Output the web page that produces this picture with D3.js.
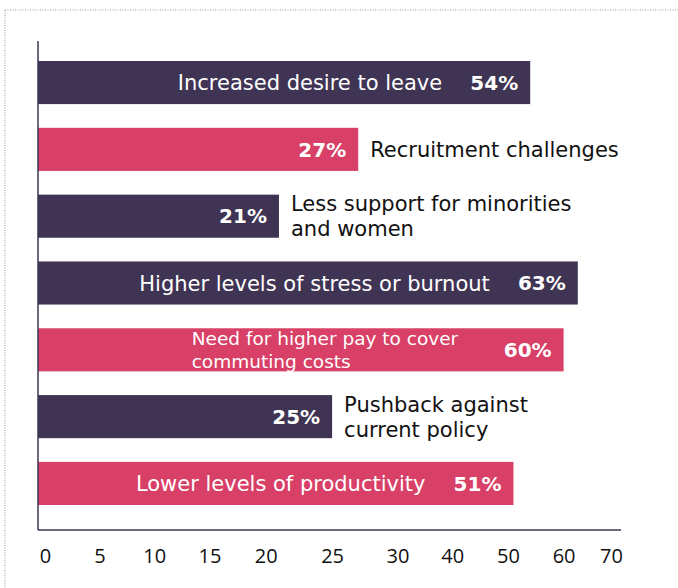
<!DOCTYPE html>
<html>
<head>
<meta charset="utf-8">
<script src="https://cdn.jsdelivr.net/npm/d3@7"></script>
<style>
  html, body { margin: 0; padding: 0; background: #fff; }
  svg { display: block; }
  text { font-family: "DejaVu Sans", "Open Sans", sans-serif; }
</style>
</head>
<body>
<svg id="chart" width="678" height="588"></svg>
<script>
// Survey responses: share of respondents reporting each effect
const categories = [
  "Increased desire to leave",
  "Recruitment challenges",
  "Less support for minorities\nand women",
  "Higher levels of stress or burnout",
  "Need for higher pay to cover\ncommuting costs",
  "Pushback against\ncurrent policy",
  "Lower levels of productivity"
];
const values = [54, 27, 21, 63, 60, 25, 51];
const tones = ["dark", "accent", "dark", "dark", "accent", "dark", "accent"];
const tickValues = [0, 5, 10, 15, 20, 25, 30, 40, 50, 60, 70];

const rows = categories.map((c, i) => ({ label: c, value: values[i], tone: tones[i] }));

const svg = d3.select("#chart");
const W = 678, H = 588;

const colors = { dark: "#3f3453", accent: "#d84067" };
const axisColor = "#3f3453";

// frame
svg.append("line").attr("x1", 5).attr("y1", 10).attr("x2", W).attr("y2", 10)
  .attr("stroke", "#9a9a9a").attr("stroke-width", 1).attr("stroke-dasharray", "1,1.5");
svg.append("line").attr("x1", 5).attr("y1", 10).attr("x2", 5).attr("y2", H)
  .attr("stroke", "#9a9a9a").attr("stroke-width", 1).attr("stroke-dasharray", "1,1.5");

// the value axis is laid out with uneven spacing between its ticks
const plotLeft = 38, plotRight = 621, plotTop = 41, plotBottom = 530;
const tickPos = [plotLeft, 99.4, 154.3, 209.5, 265.7, 332.1, 397.4, 452.2, 507.9, 563.6, 611];
const x = d3.scaleLinear().domain(tickValues).range(tickPos);

const y = d3.scaleBand()
  .domain(d3.range(rows.length))
  .range([61, 505])
  .paddingInner(0.355)
  .paddingOuter(0);

// bars
svg.append("g").selectAll("rect").data(rows).join("rect")
  .attr("x", x(0))
  .attr("y", (d, i) => y(i))
  .attr("width", d => x(d.value) - x(0))
  .attr("height", y.bandwidth())
  .attr("fill", d => colors[d.tone]);

// axes lines
svg.append("line").attr("x1", plotLeft).attr("x2", plotLeft).attr("y1", plotTop).attr("y2", plotBottom)
  .attr("stroke", axisColor).attr("stroke-width", 1.5);
svg.append("line").attr("x1", plotLeft).attr("x2", plotRight).attr("y1", plotBottom).attr("y2", plotBottom)
  .attr("stroke", axisColor).attr("stroke-width", 1.5);

// tick labels
const axis = d3.axisBottom(x).tickValues(tickValues).tickSize(0).tickPadding(0).tickFormat(d3.format("d"));
const gx = svg.append("g").attr("transform", `translate(0,${plotBottom})`).call(axis);
gx.select(".domain").remove();
gx.selectAll("text")
  .attr("y", 33)
  .attr("dy", 0)
  .attr("dx", d => d === 0 ? 7 : 0)
  .attr("fill", "#111")
  .style("font-size", "20px")
  .style("font-family", "'Open Sans', sans-serif");

// labels
const valueGap = 12;
const catSize = 21;
const lab = svg.append("g");
rows.forEach((d, i) => {
  const end = x(d.value);
  const cy = y(i) + y.bandwidth() / 2;
  const lines = d.label.split("\n");
  const inside = d.value >= 50;

  lab.append("text")
    .attr("x", end - valueGap)
    .attr("y", cy)
    .attr("dy", "0.36em")
    .attr("text-anchor", "end")
    .attr("fill", "#fff")
    .style("font-weight", 700)
    .style("font-size", "20px")
    .text(d.value + "%");

  if (inside) {
    const fs = lines.length > 1 ? 18.5 : catSize;
    const lh = lines.length > 1 ? 23 : 25;
    const t = lab.append("text")
      .attr("fill", "#fff")
      .style("font-size", fs + "px");
    lines.forEach((ln, k) => {
      t.append("tspan")
        .attr("x", 0)
        .attr("y", cy + (k - (lines.length - 1) / 2) * lh)
        .attr("dy", "0.36em")
        .text(ln);
    });
    const w = t.node().getBBox().width;
    const gap = lines.length > 1 ? 105 : 88;
    t.selectAll("tspan").attr("x", end - gap - w);
  } else {
    const t = lab.append("text")
      .attr("fill", "#111")
      .style("font-size", catSize + "px");
    lines.forEach((ln, k) => {
      t.append("tspan")
        .attr("x", end + 12)
        .attr("y", cy + (k - (lines.length - 1) / 2) * 25)
        .attr("dy", "0.36em")
        .text(ln);
    });
  }
});
</script>
</body>
</html>
